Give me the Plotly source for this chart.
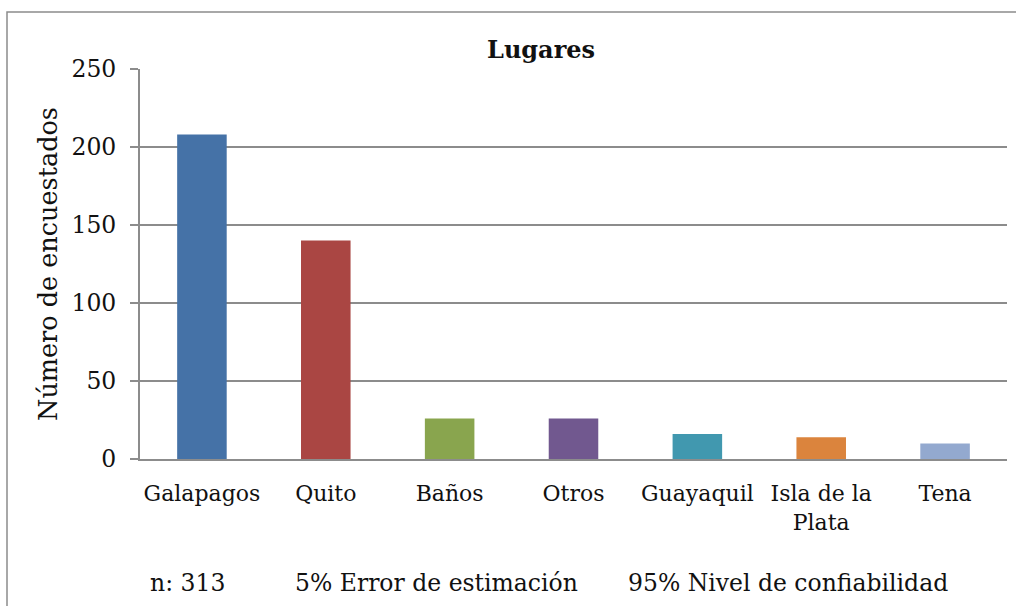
import plotly.graph_objects as go

lugares = ["Galapagos", "Quito", "Baños", "Otros", "Guayaquil", "Isla de la<br>Plata", "Tena"]
encuestados = [208, 140, 26, 26, 16, 14, 10]
colores = ["#4572A7", "#AA4643", "#89A54E", "#71588F", "#4198AF", "#DB843D", "#93A9CF"]
notas = ["n: 313", "5% Error de estimación", "95% Nivel de confiabilidad"]
notas_x = [148, 293, 626]

serif = "DejaVu Serif, Liberation Serif, serif"
W, H = 1016, 606
L, R, T, B = 140, 9, 69, 147
pw, ph = W - L - R, H - T - B


def px(x):
    return (x - L) / pw


def py(y):
    return (H - B - y) / ph


fig = go.Figure()
fig.add_trace(go.Bar(x=lugares, y=encuestados, marker=dict(color=colores, line=dict(width=0)),
                     showlegend=False, hoverinfo="skip"))

fig.update_layout(
    width=W, height=H,
    margin=dict(l=L, r=R, t=T, b=B, autoexpand=False),
    paper_bgcolor="white", plot_bgcolor="white",
    bargap=0.6,
    font=dict(family=serif, size=21, color="#111"),
)
fig.update_xaxes(showline=True, linecolor="#8c8c8c", linewidth=2, showgrid=False,
                 ticks="", tickfont=dict(size=22), automargin=False, ticklabelstandoff=14)
fig.update_yaxes(range=[0, 250], dtick=50, showline=True, linecolor="#8c8c8c", linewidth=2,
                 showgrid=True, gridcolor="#8c8c8c", gridwidth=1.5,
                 ticks="outside", ticklen=8, tickcolor="#8c8c8c", tickwidth=2,
                 tickfont=dict(size=23.5), zeroline=False, automargin=False, ticklabelstandoff=9,
                 title=dict(text="Número de encuestados", font=dict(size=25.5), standoff=7))

fig.add_annotation(text="<b>Lugares</b>", xref="paper", yref="paper", x=px(541), y=py(50),
                   yanchor="middle", showarrow=False, font=dict(size=24))
for txt, x0 in zip(notas, notas_x):
    fig.add_annotation(text=txt, xref="paper", yref="paper", x=px(x0), y=py(583),
                       xanchor="left", yanchor="middle", showarrow=False, font=dict(size=23.5))

# borde exterior del grafico
fig.add_shape(type="rect", xref="paper", yref="paper",
              x0=px(7), x1=px(1030), y0=py(640), y1=py(12),
              line=dict(color="#8c8c8c", width=1.5), layer="below")

fig.write_html("out.html", config={"displayModeBar": False},
               post_script="document.body.style.margin='0';document.body.style.overflow='hidden';")
